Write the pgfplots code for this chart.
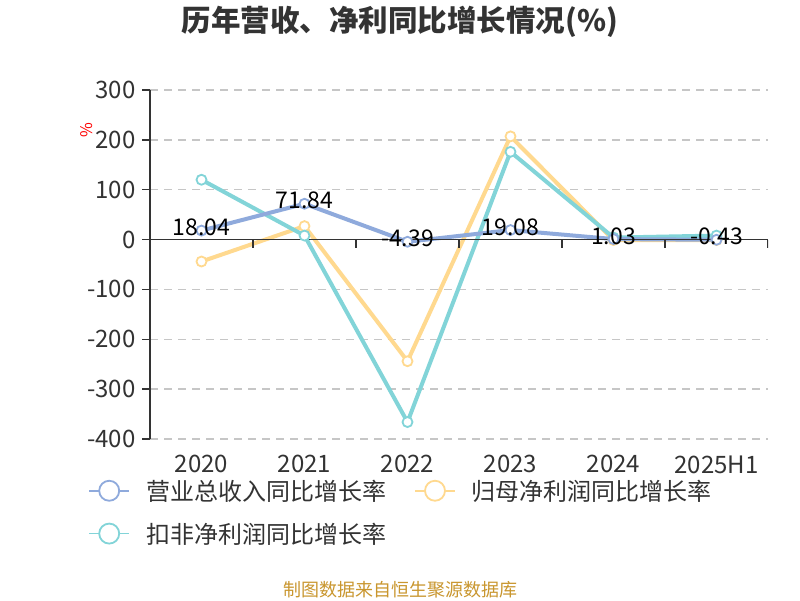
\documentclass[border=0pt]{standalone}
\usepackage{fontspec}
\setmainfont{Noto Sans CJK SC}
\usepackage{pgfplots}
\pgfplotsset{compat=1.18}
\definecolor{cRev}{HTML}{8FAADC}
\definecolor{cNet}{HTML}{FFD98F}
\definecolor{cDed}{HTML}{82D4D8}
\definecolor{cTxt}{HTML}{333333}
\definecolor{cSrc}{HTML}{C9962E}
\begin{document}
\begin{tikzpicture}
\path[use as bounding box, fill=white] (0pt,0pt) rectangle (800pt,600pt);
\node[font=\fontsize{29.5pt}{31pt}\selectfont\bfseries, text=cTxt] at (400pt,578pt) {历年营收、净利同比增长情况(\%)};
\node[font=\fontsize{18pt}{20pt}\selectfont, text=cSrc] at (400pt,10pt) {制图数据来自恒生聚源数据库};
\node[rotate=90, text=red, font=\fontsize{16pt}{18pt}\selectfont] at (87pt,470pt) {\%};
\begin{axis}[
    at={(150pt,161pt)}, anchor=south west,
    scale only axis, width=618pt, height=349pt,
    xmin=-0.5, xmax=5.5, ymin=-400, ymax=300,
    axis y line=left, axis x line=bottom,
    axis line style={-, cTxt, line width=1.3pt},
    x axis line style={draw=none},
    xtick={0,1,2,3,4,5},
    xticklabels={2020,2021,2022,2023,2024,2025H1},
    major x tick style={draw=none},
    ytick={-400,-300,...,300},
    tick align=outside, major tick length=8pt,
    major y tick style={cTxt, line width=1.3pt},
    ymajorgrids,
    grid style={dash pattern=on 8pt off 6pt, gray!45, line width=1.3pt},
    /pgf/number format/assume math mode=true,
    tick label style={font=\fontsize{24pt}{26pt}\selectfont, text=cTxt},
    xticklabel style={yshift=-5pt},
    yticklabel style={xshift=-3pt},
    legend columns=2,
    legend style={draw=none, at={(rel axis cs:-0.105,-0.105)}, anchor=north west,
        font=\fontsize{24pt}{26pt}\selectfont, text=cTxt,
        /tikz/every odd column/.append style={column sep=14pt},
        /tikz/every even column/.append style={column sep=26pt},
        row sep=17pt},
    legend image code/.code={
        \draw[line width=1.8pt] (0pt,0pt) -- (40pt,0pt);
        \draw[line width=1.8pt, fill=white] (20pt,0pt) circle (10pt);
    },
]
\addlegendimage{cRev}\addlegendentry{营业总收入同比增长率}
\addlegendimage{cNet}\addlegendentry{归母净利润同比增长率}
\addlegendimage{cDed}\addlegendentry{扣非净利润同比增长率}
\addplot[forget plot, cNet, line width=4pt, mark=*, mark size=5pt, mark options={fill=white, line width=1.8pt}]
coordinates {(0,-44) (1,27) (2,-244) (3,207) (4,-1) (5,-1)};
\addplot[forget plot, cDed, line width=4pt, mark=*, mark size=5pt, mark options={fill=white, line width=1.8pt}]
coordinates {(0,120) (1,8) (2,-366) (3,176) (4,4) (5,8)};
\addplot[forget plot, cRev, line width=4pt, mark=*, mark size=5pt, mark options={fill=white, line width=1.8pt},
    nodes near coords, point meta=explicit symbolic,
    nodes near coords style={anchor=center, yshift=3pt, text=black, font=\fontsize{23pt}{25pt}\selectfont}]
coordinates {(0,18.04) [18.04] (1,71.84) [71.84] (2,-4.39) [-4.39] (3,19.08) [19.08] (4,1.03) [1.03] (5,-0.43) [-0.43]};
\draw[cTxt, line width=1.3pt] (axis cs:-0.5,0) -- (axis cs:5.5,0);
\pgfplotsinvokeforeach{0.5,1.5,2.5,3.5,4.5,5.5}{
    \draw[cTxt, line width=1.3pt] (axis cs:#1,0) -- ++(0pt,-8pt);
}
\end{axis}
\end{tikzpicture}
\end{document}
